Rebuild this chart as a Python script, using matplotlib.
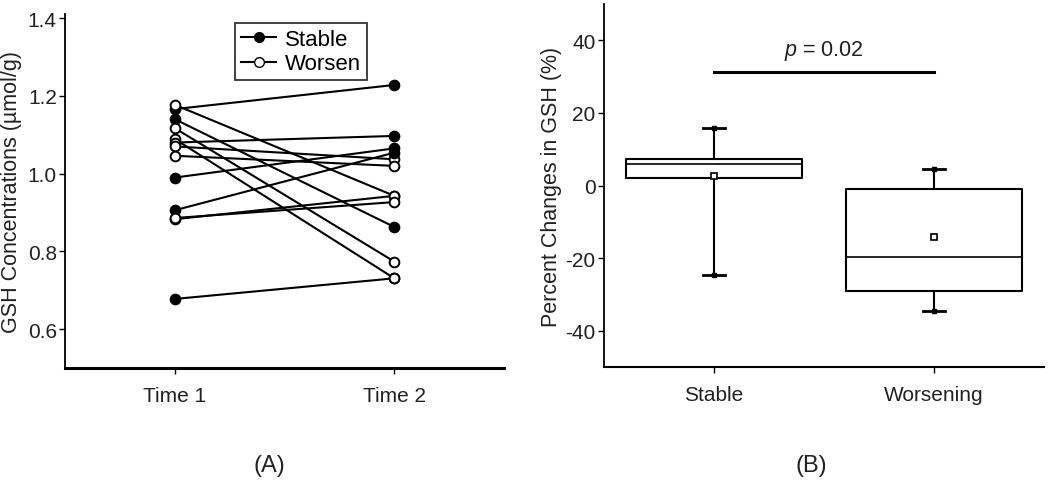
import matplotlib
matplotlib.use("Agg")
import matplotlib.pyplot as plt
from matplotlib.lines import Line2D

plt.rcParams['font.family'] = ['Liberation Sans', 'DejaVu Sans']
plt.rcParams['mathtext.fontset'] = 'custom'
plt.rcParams['mathtext.it'] = 'Liberation Sans:italic'
plt.rcParams['mathtext.rm'] = 'Liberation Sans'
plt.rcParams['axes.unicode_minus'] = False

# panel A: GSH at two time points, one line per subject
time_labels = ["Time 1", "Time 2"]
gsh_t1 = [1.166, 1.177, 1.140, 1.117, 1.089, 1.080, 1.070, 1.046, 0.990, 0.906, 0.883, 0.886, 0.678]
gsh_t2 = [1.228, 0.943, 0.863, 0.774, 0.731, 1.097, 1.037, 1.020, 1.065, 1.054, 0.943, 0.927, 0.731]
# True = Stable (filled), False = Worsen (open)
stable_t1 = [True, False, True, False, False, False, False, False, True, True, False, False, True]
stable_t2 = [True, False, True, False, False, True, False, False, True, True, False, False, False]

# panel B: percent change box summaries
groups = ["Stable", "Worsening"]
q1 = [2.0, -29.1]
q3 = [7.2, -1.0]
med = [6.0, -19.8]
mean = [2.6, -14.2]
whislo = [-24.5, -34.4]
whishi = [15.8, 4.5]
p_bar_y = 31.2
p_text = "$p$ = 0.02"

fig = plt.figure(figsize=(10.5, 4.89), dpi=100)
ax1 = fig.add_axes([0.062, 0.245, 0.418, 0.724])
ax2 = fig.add_axes([0.575, 0.247, 0.419, 0.743])

# ---- panel A
for a, b in zip(gsh_t1, gsh_t2):
    ax1.plot([1, 2], [a, b], color='black', linewidth=1.5, zorder=2)
for xs, vals, flags in [(1, gsh_t1, stable_t1), (2, gsh_t2, stable_t2)]:
    for v, s in zip(vals, flags):
        ax1.plot(xs, v, marker='o', markersize=7, markeredgecolor='black',
                 markerfacecolor='black' if s else 'white', markeredgewidth=1.4,
                 linestyle='none', zorder=3)

ax1.set_xlim(0.5, 2.5)
ax1.set_ylim(0.5, 1.41)
ax1.set_xticks([1, 2])
ax1.set_xticklabels(time_labels)
ax1.set_yticks([0.6, 0.8, 1.0, 1.2, 1.4])
ax1.set_ylabel("GSH Concentrations (µmol/g)", fontsize=15.5, labelpad=4, color='#222222')
ax1.spines['top'].set_visible(False)
ax1.spines['right'].set_visible(False)
ax1.spines['left'].set_linewidth(1.3)
ax1.spines['bottom'].set_linewidth(2.2)
ax1.tick_params(axis='both', labelsize=15, direction='out', length=4, width=1, labelcolor='#222222')
ax1.tick_params(axis='x', pad=9)
ax1.tick_params(axis='y', pad=2)

handles = [
    Line2D([], [], color='black', marker='o', markerfacecolor='black', markersize=7, linewidth=1.5),
    Line2D([], [], color='black', marker='o', markerfacecolor='white', markersize=7, linewidth=1.5),
]
leg = ax1.legend(handles, ["Stable", "Worsen"], loc='upper center', bbox_to_anchor=(0.538, 1.005),
                 fontsize=16, frameon=True, fancybox=False, handlelength=1.6,
                 handletextpad=0.4, borderpad=0.25, labelspacing=0.15)
leg.get_frame().set_edgecolor('black')
leg.get_frame().set_linewidth(1.3)

# ---- panel B
stats = []
for i in range(len(groups)):
    stats.append(dict(q1=q1[i], q3=q3[i], med=med[i], mean=mean[i],
                      whislo=whislo[i], whishi=whishi[i], fliers=[], label=groups[i]))
ax2.bxp(stats, positions=[1, 2], widths=0.8, showmeans=True, showfliers=False,
        boxprops=dict(color='black', linewidth=1.5),
        medianprops=dict(color='black', linewidth=1.2),
        whiskerprops=dict(color='black', linewidth=1.5),
        capprops=dict(color='black', linewidth=2.0),
        capwidths=0.1,
        meanprops=dict(marker='s', markerfacecolor='white', markeredgecolor='black',
                       markersize=4, markeredgewidth=1.2))
for i, pos in enumerate([1, 2]):
    ax2.plot([pos, pos], [whislo[i], whishi[i]], linestyle='none', marker='s',
             markersize=3.5, color='black')

ax2.plot([1, 2], [p_bar_y, p_bar_y], color='black', linewidth=2.2)
ax2.text(1.5, p_bar_y + 2.8, p_text, ha='center', va='bottom', fontsize=15.5, color='#222222')

ax2.set_xlim(0.5, 2.5)
ax2.set_ylim(-50, 50)
ax2.set_yticks([-40, -20, 0, 20, 40])
ax2.set_ylabel("Percent Changes in GSH (%)", fontsize=15.5, labelpad=2, color='#222222')
ax2.spines['top'].set_visible(False)
ax2.spines['right'].set_visible(False)
ax2.spines['left'].set_linewidth(1.3)
ax2.spines['bottom'].set_linewidth(1.5)
ax2.tick_params(axis='both', labelsize=15, direction='out', length=4, width=1, labelcolor='#222222')
ax2.tick_params(axis='x', pad=9)
ax2.tick_params(axis='y', pad=2)

fig.text(0.257, 0.047, "(A)", ha='center', va='center', fontsize=17, color='#222222')
fig.text(0.773, 0.047, "(B)", ha='center', va='center', fontsize=17, color='#222222')

fig.savefig("out.png", dpi=100)
